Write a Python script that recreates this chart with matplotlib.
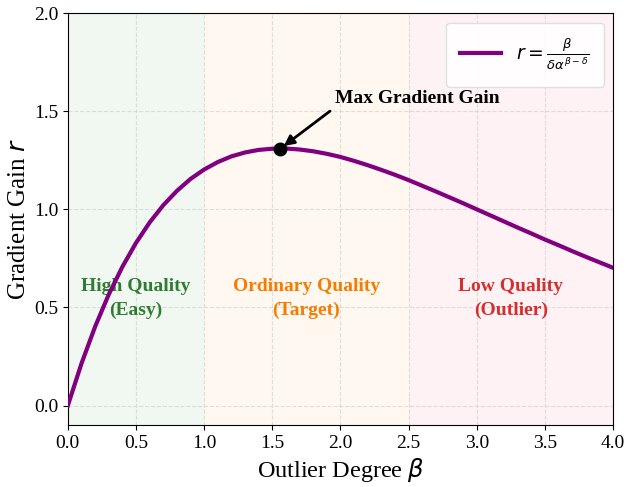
import matplotlib
matplotlib.use("Agg")
import matplotlib.pyplot as plt

plt.rcParams['font.family'] = ['Liberation Serif', 'DejaVu Serif']
plt.rcParams['mathtext.fontset'] = 'dejavusans'

# Gradient gain r sampled along the outlier degree beta
beta = [0.0, 0.1, 0.2, 0.3, 0.4, 0.5, 0.6, 0.7, 0.8, 0.9,
        1.0, 1.1, 1.2, 1.3, 1.4, 1.5, 1.6, 1.7, 1.8, 1.9,
        2.0, 2.1, 2.2, 2.3, 2.4, 2.5, 2.6, 2.7, 2.8, 2.9,
        3.0, 3.1, 3.2, 3.3, 3.4, 3.5, 3.6, 3.7, 3.8, 3.9, 4.0]
gain = [0.000, 0.214, 0.402, 0.566, 0.707, 0.829, 0.933, 1.021, 1.094, 1.155,
        1.203, 1.241, 1.270, 1.290, 1.303, 1.309, 1.310, 1.305, 1.296, 1.283,
        1.267, 1.247, 1.225, 1.201, 1.176, 1.149, 1.120, 1.091, 1.061, 1.031,
        1.000, 0.969, 0.938, 0.907, 0.877, 0.846, 0.817, 0.787, 0.758, 0.730, 0.702]

peak_beta = 1.56
peak_gain = 1.31

regions = [(0.0, 1.0), (1.0, 2.5), (2.5, 4.0)]
region_bg = ['#f1f8f1', '#fff8f0', '#fff2f4']
region_labels = ['High Quality\n(Easy)', 'Ordinary Quality\n(Target)', 'Low Quality\n(Outlier)']
region_colors = ['#2e7d32', '#f57c00', '#d32f2f']
label_y = 0.545

xticks = [0.0, 0.5, 1.0, 1.5, 2.0, 2.5, 3.0, 3.5, 4.0]
yticks = [0.0, 0.5, 1.0, 1.5, 2.0]

fig = plt.figure(figsize=(6.4, 4.87), dpi=100)
ax = fig.add_axes([0.106, 0.127, 0.852, 0.846])

for (lo, hi), bg, lab, col in zip(regions, region_bg, region_labels, region_colors):
    ax.axvspan(lo, hi, color=bg, zorder=0, lw=0)
    ax.text((lo + hi) / 2, label_y, lab, color=col, fontsize=14, fontweight='bold',
            ha='center', va='center', linespacing=1.45, zorder=2)

ax.grid(True, linestyle='--', color='#cccccc', alpha=0.6, lw=0.8, zorder=1)
ax.set_axisbelow(True)

ax.plot(beta, gain, color='purple', lw=3,
        label=r'$r = \frac{\beta}{\delta\alpha^{\beta-\delta}}$', zorder=3)
ax.plot([peak_beta], [peak_gain], 'o', color='black', markersize=9, zorder=4)

ax.annotate('Max Gradient Gain', xy=(peak_beta, peak_gain), xytext=(1.96, 1.52),
            fontsize=14, fontweight='bold', ha='left', va='bottom',
            arrowprops=dict(arrowstyle='-|>', color='black', lw=2,
                            mutation_scale=15, relpos=(0, 0), shrinkA=2, shrinkB=3),
            zorder=5)

ax.set_xlim(0, 4)
ax.set_ylim(-0.1, 2.0)
ax.set_xticks(xticks)
ax.set_yticks(yticks)
ax.tick_params(labelsize=14)
ax.set_xlabel(r'Outlier Degree $\beta$', fontsize=17.5, labelpad=3)
ax.set_ylabel(r'Gradient Gain $r$', fontsize=18, labelpad=3)

leg = ax.legend(loc='upper right', fontsize=13.5, handlelength=2.2,
                borderpad=0.75, framealpha=0.9)
leg.get_frame().set_edgecolor('#dddddd')

fig.savefig('out.png', dpi=100)
